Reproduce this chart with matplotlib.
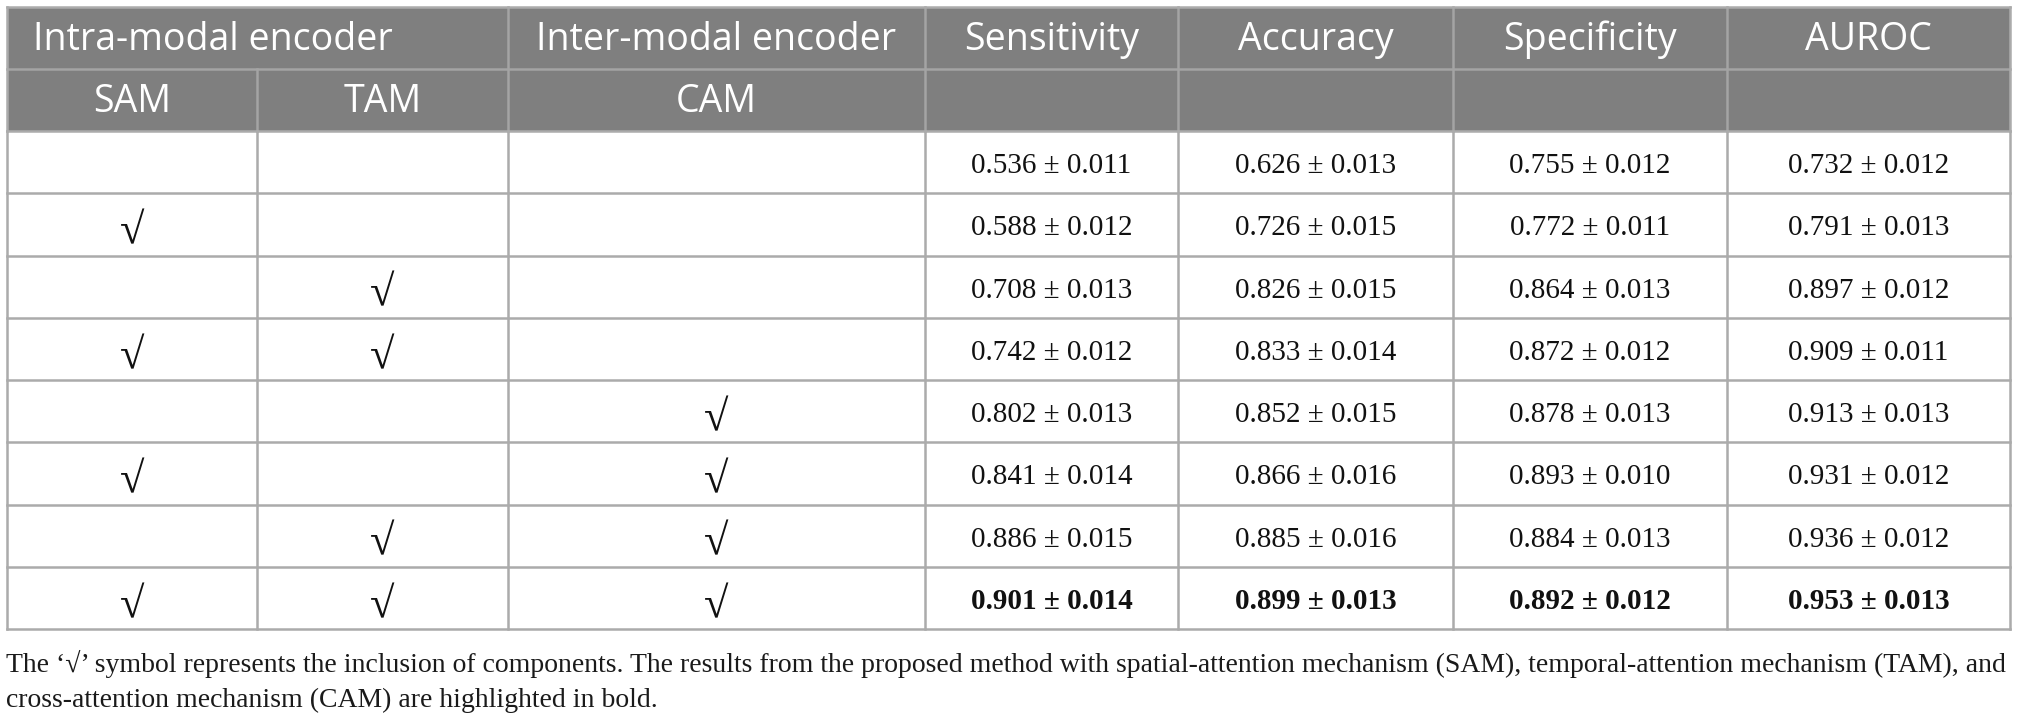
import matplotlib
matplotlib.use("Agg")
import matplotlib.pyplot as plt
from matplotlib.patches import Rectangle

# table content
group_headers = ["Intra-modal encoder", "Inter-modal encoder", "Sensitivity", "Accuracy", "Specificity", "AUROC"]
sub_headers = ["SAM", "TAM", "CAM"]

sam = [0, 1, 0, 1, 0, 1, 0, 1]
tam = [0, 0, 1, 1, 0, 0, 1, 1]
cam = [0, 0, 0, 0, 1, 1, 1, 1]

sensitivity = [0.536, 0.588, 0.708, 0.742, 0.802, 0.841, 0.886, 0.901]
sensitivity_sd = [0.011, 0.012, 0.013, 0.012, 0.013, 0.014, 0.015, 0.014]
accuracy = [0.626, 0.726, 0.826, 0.833, 0.852, 0.866, 0.885, 0.899]
accuracy_sd = [0.013, 0.015, 0.015, 0.014, 0.015, 0.016, 0.016, 0.013]
specificity = [0.755, 0.772, 0.864, 0.872, 0.878, 0.893, 0.884, 0.892]
specificity_sd = [0.012, 0.011, 0.013, 0.012, 0.013, 0.010, 0.013, 0.012]
auroc = [0.732, 0.791, 0.897, 0.909, 0.913, 0.931, 0.936, 0.953]
auroc_sd = [0.012, 0.013, 0.012, 0.011, 0.013, 0.012, 0.012, 0.013]

bold_rows = [7]

footnote = ["The \u2018\u221a\u2019 symbol represents the inclusion of components. The results from the proposed method with "
            "spatial-attention mechanism (SAM), temporal-attention mechanism (TAM), and",
            "cross-attention mechanism (CAM) are highlighted in bold."]


def draw_table():
    W, H = 2017, 721
    fig = plt.figure(figsize=(W / 100, H / 100), dpi=100)
    ax = fig.add_axes([0, 0, 1, 1])
    ax.set_xlim(0, W)
    ax.set_ylim(H, 0)
    ax.axis("off")

    col_x = [7, 257, 508, 925, 1178, 1453, 1727, 2010]
    head_y = [7, 69, 131]
    n = len(sensitivity)
    row_h = (629 - 131) / n
    row_y = [131 + i * row_h for i in range(n + 1)]

    head_fc = "#7f7f7f"
    line_c = "#ababab"
    sans = ["Open Sans", "DejaVu Sans"]
    serif = ["Liberation Serif", "DejaVu Serif"]
    hsize = 27

    # header background
    ax.add_patch(Rectangle((col_x[0], head_y[0]), col_x[-1] - col_x[0], head_y[2] - head_y[0],
                           facecolor=head_fc, edgecolor="none"))

    # header lines (lighter on the grey)
    hl = "#a4a4a4"
    ax.plot([col_x[0], col_x[-1]], [head_y[1], head_y[1]], color=hl, lw=1.8)
    for x in [col_x[2]] + col_x[3:-1]:
        ax.plot([x, x], [head_y[0], head_y[2]], color=hl, lw=1.8)
    ax.plot([col_x[1], col_x[1]], [head_y[1], head_y[2]], color=hl, lw=1.8)

    # header text
    b1 = head_y[0] + 43
    ax.text(33, b1, group_headers[0], color="white", fontsize=hsize, family=sans, ha="left", va="baseline")
    ax.text((col_x[2] + col_x[3]) / 2, b1, group_headers[1], color="white", fontsize=hsize, family=sans,
            ha="center", va="baseline")
    for j, name in enumerate(group_headers[2:]):
        ax.text((col_x[3 + j] + col_x[4 + j]) / 2, b1, name, color="white", fontsize=hsize, family=sans,
                ha="center", va="baseline")
    b2 = head_y[1] + 43
    for j, name in enumerate(sub_headers):
        ax.text((col_x[j] + col_x[j + 1]) / 2, b2, name, color="white", fontsize=hsize, family=sans,
                ha="center", va="baseline")

    # body grid
    for y in row_y:
        ax.plot([col_x[0], col_x[-1]], [y, y], color=line_c, lw=1.8)
    for x in col_x:
        ax.plot([x, x], [row_y[0], row_y[-1]], color=line_c, lw=1.8)
    for x in [col_x[0], col_x[-1]]:
        ax.plot([x, x], [head_y[0], head_y[2]], color=line_c, lw=1.8)
    ax.plot([col_x[0], col_x[-1]], [head_y[0], head_y[0]], color=line_c, lw=1.8)

    checks = [sam, tam, cam]
    metrics = [(sensitivity, sensitivity_sd), (accuracy, accuracy_sd),
               (specificity, specificity_sd), (auroc, auroc_sd)]
    for i in range(n):
        cy = (row_y[i] + row_y[i + 1]) / 2
        weight = "bold" if i in bold_rows else "normal"
        for j, flags in enumerate(checks):
            if flags[i]:
                ax.text((col_x[j] + col_x[j + 1]) / 2, cy + 19, "\u221a", fontsize=32, family=serif,
                        fontweight=weight, ha="center", va="baseline", color="#111111")
        for j, (vals, sds) in enumerate(metrics):
            ax.text((col_x[3 + j] + col_x[4 + j]) / 2, cy + 11, f"{vals[i]:.3f} \u00b1 {sds[i]:.3f}",
                    fontsize=21, family=serif, fontweight=weight, ha="center", va="baseline",
                    color="#111111")

    # footnote
    ax.text(6, 672, footnote[0], fontsize=20, family=serif, ha="left", va="baseline", color="#1a1a1a")
    ax.text(6, 707, footnote[1], fontsize=20, family=serif, ha="left", va="baseline", color="#1a1a1a")

    fig.savefig("out.png", dpi=100, facecolor="white")


draw_table()
